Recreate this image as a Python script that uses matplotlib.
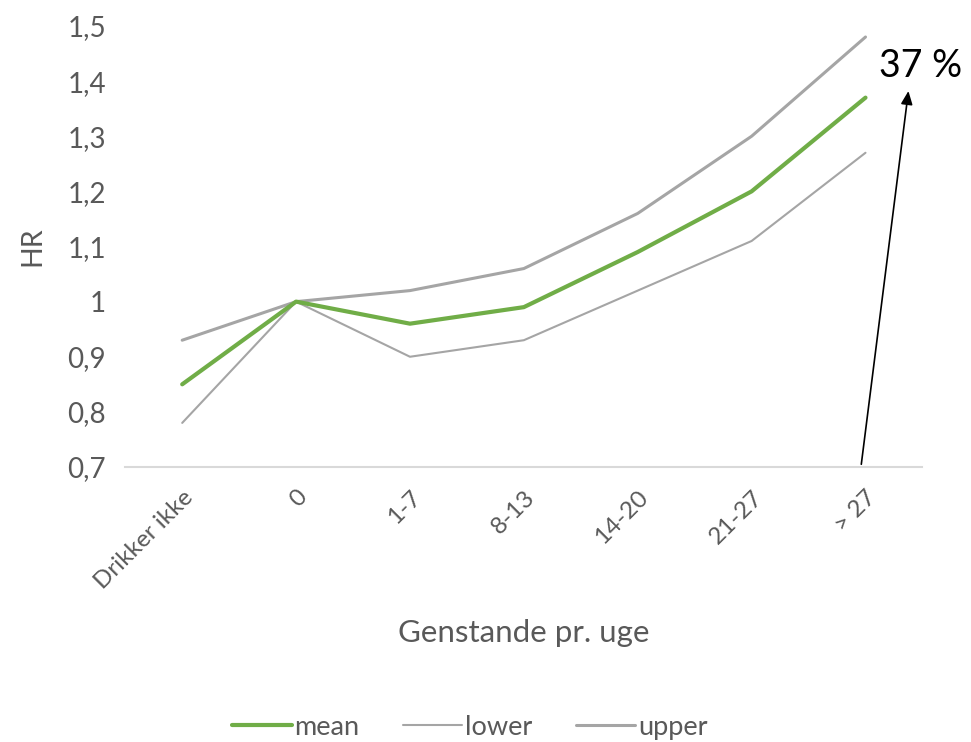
import numpy as np
from matplotlib import pyplot as plt

# data
categories = ['Drikker ikke', '0', '1-7', '8-13', '14-20', '21-27', '> 27']
mean_hr = [0.85, 1.00, 0.96, 0.99, 1.09, 1.20, 1.37]
lower_hr = [0.78, 1.00, 0.90, 0.93, 1.02, 1.11, 1.27]
upper_hr = [0.93, 1.00, 1.02, 1.06, 1.16, 1.30, 1.48]
y_ticks = [0.7, 0.8, 0.9, 1.0, 1.1, 1.2, 1.3, 1.4, 1.5]
tick_labels = ['0,7', '0,8', '0,9', '1', '1,1', '1,2', '1,3', '1,4', '1,5']

plt.rcParams['font.family'] = ['Lato', 'DejaVu Sans']
txt_color = '#595959'

fig = plt.figure(figsize=(9.71, 7.42), dpi=100)
ax = fig.add_axes([0.129, 0.3706, 0.821, 0.5944])

x = np.arange(len(categories))
ax.plot(x, mean_hr, color='#70AD47', lw=3.0, solid_capstyle='round', label='mean', zorder=3)
ax.plot(x, lower_hr, color='#A5A5A5', lw=1.5, solid_capstyle='round', label='lower')
ax.plot(x, upper_hr, color='#A5A5A5', lw=2.2, solid_capstyle='round', label='upper')

ax.set_xlim(-0.5, 6.5)
ax.set_ylim(0.7, 1.5)
ax.set_yticks(y_ticks)
ax.set_yticklabels(tick_labels)
ax.set_xticks(x)
ax.set_xticklabels(categories, rotation=45, ha='right', va='top', rotation_mode='anchor')
ax.tick_params(axis='both', length=0, labelsize=20, colors=txt_color)
ax.tick_params(axis='x', labelsize=17.5, pad=14)
ax.tick_params(axis='y', pad=14)
for s in ['top', 'right', 'left']:
    ax.spines[s].set_visible(False)
ax.spines['bottom'].set_color('#D9D9D9')
ax.spines['bottom'].set_linewidth(1.5)

ax.set_ylabel('HR', fontsize=20.5, color=txt_color, labelpad=16)
ax.set_xlabel('Genstande pr. uge', fontsize=22.5, color=txt_color, labelpad=19)

ax.annotate('', xy=(6.38, 1.387), xytext=(5.96, 0.7),
            arrowprops=dict(arrowstyle='-|>,head_length=0.8,head_width=0.35', color='black', lw=1.2),
            annotation_clip=False)
ax.text(6.48, 1.427, '37 %', fontsize=27, color='black', ha='center', va='center', clip_on=False)

ax.legend(loc='center', bbox_to_anchor=(0.432, -0.59), ncol=3, frameon=False,
          fontsize=19.5, labelcolor=txt_color, handlelength=2.2, handletextpad=0.1, columnspacing=1.6)

fig.savefig('out.png', dpi=100)
